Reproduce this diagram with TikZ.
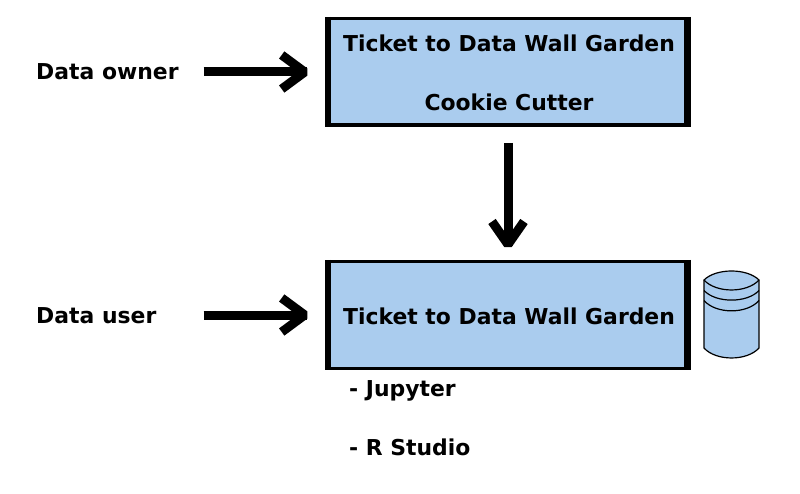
\documentclass[tikz,border=0pt]{standalone}
\usepackage{fontspec}
\setmainfont{DejaVu Sans}
\usetikzlibrary{calc}
\definecolor{boxblue}{HTML}{AACCEE}
\tikzset{
  x=1pt,y=-1pt,
  label text/.style={font=\fontsize{21.9}{26}\selectfont\bfseries,inner sep=0pt,text=black},
  wall box/.style={draw=black,fill=boxblue,line width=3.5pt,minimum width=362.5pt,minimum height=106.5pt,inner sep=0pt},
  wall side/.style={line width=6.5pt,line cap=butt},
  flow/.style={line width=9pt,line cap=butt},
  flow head/.style={line width=9pt,line cap=butt,line join=bevel},
  cyl/.style={draw=black,line width=1.2pt,fill=boxblue}
}
\begin{document}
\begin{tikzpicture}
\useasboundingbox (0,0) rectangle (800,494);
\node[wall box] (top) at (507.7,72) {};
\node[wall box] (bottom) at (507.7,315) {};
\foreach \b in {top,bottom}{
  \draw[wall side] ($(\b.north west)+(3.25,0)$) -- ($(\b.south west)+(3.25,0)$);
  \draw[wall side] ($(\b.north east)+(-3.25,0)$) -- ($(\b.south east)+(-3.25,0)$);
}
\node[label text] (t1) at (509,43) {Ticket to Data Wall Garden};
\node[label text] (t2) at (509,102) {Cookie Cutter};
\node[label text] (t3) at (509,316) {Ticket to Data Wall Garden};
\node[label text,anchor=west] (owner) at (36,72) {Data owner};
\node[label text,anchor=west] (user) at (36,316) {Data user};
\node[label text,anchor=west] (jup) at (349,391) {- Jupyter};
\node[label text,anchor=west] (rs) at (349,447.5) {- R Studio};
% owner arrow
\coordinate (oa) at ($(top.west)+(-121,0)$);
\coordinate (ob) at ($(top.west)+(-18,0)$);
\draw[flow] (oa) -- (ob);
\draw[flow head] ($(ob)+(-25,-17)$) -- ($(ob)+(-2,0)$) -- ($(ob)+(-25,17)$);
% user arrow
\coordinate (ua) at ($(bottom.west)+(-121,0)$);
\coordinate (ub) at ($(bottom.west)+(-18,0)$);
\draw[flow] (ua) -- (ub);
\draw[flow head] ($(ub)+(-25,-17)$) -- ($(ub)+(-2,0)$) -- ($(ub)+(-25,17)$);
% down arrow
\coordinate (da) at ($(top.south)+(0.3,16)$);
\coordinate (db) at ($(bottom.north)+(0.3,-13.5)$);
\draw[flow] (da) -- (db);
\draw[flow head] ($(db)+(-16,-25)$) -- ($(db)+(0,-2)$) -- ($(db)+(16,-25)$);
% database
\path[cyl] (704,280) .. controls (716,268) and (747,268) .. (759,280)
  -- (759,348) .. controls (747,361.3) and (716,361.3) .. (704,348) -- cycle;
\draw[cyl,fill=none] (704,280) .. controls (716,293.3) and (747,293.3) .. (759,280);
\draw[cyl,fill=none] (704,290.5) .. controls (716,303.3) and (747,303.3) .. (759,290.5);
\draw[cyl,fill=none] (704,300.5) .. controls (716,314.3) and (747,314.3) .. (759,300.5);
\end{tikzpicture}
\end{document}
